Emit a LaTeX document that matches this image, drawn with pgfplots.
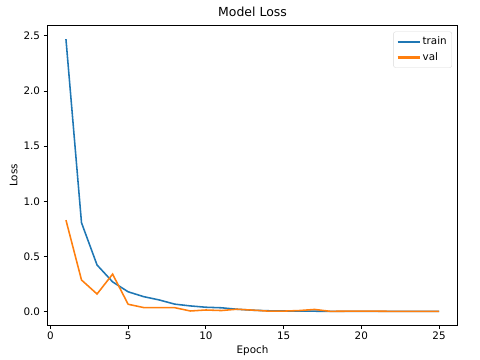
\documentclass[border=0pt]{standalone}
\usepackage{fontspec}
\setmainfont{DejaVu Sans}
\usepackage{pgfplots}
\pgfplotsset{compat=1.18}
\definecolor{c0}{HTML}{1F77B4}
\definecolor{c1}{HTML}{FF7F0E}
\begin{document}
\fontsize{10.4}{12}\selectfont
\begin{tikzpicture}
\begin{axis}[
  name=ax,
  scale only axis,
  width=410.4bp, height=299.4bp,
  xmin=-0.2, xmax=26.2, ymin=-0.121, ymax=2.593,
  xtick={0,5,...,25}, ytick={0,0.5,1,1.5,2,2.5},
  /pgf/number format/assume math mode=true,
  yticklabel style={/pgf/number format/fixed, /pgf/number format/precision=1, /pgf/number format/fixed zerofill},
  tick align=outside, tick pos=left,
  major tick length=3.6bp,
  every tick/.style={black, line width=0.83bp},
  axis line style={line width=0.83bp},
  title={Model Loss},
  title style={font=\fontsize{12.5}{14}\selectfont, yshift=-1bp},
  xlabel={Epoch}, ylabel={Loss},
  xlabel style={yshift=2bp},
  ylabel style={yshift=-1bp},
  legend style={at={(0.986,0.98)}, anchor=north east, draw=black!15, rounded corners=2bp,
    font=\fontsize{10.4}{12}\selectfont, row sep=2.3bp, inner xsep=3bp, inner ysep=3.3bp},
  legend cell align=left,
  legend image code/.code={\draw[#1, line width=2.1bp] (0bp,0bp) -- (22bp,0bp);},
]
\addplot[c0, line width=1.56bp] coordinates {
  (1,2.47) (2,0.806) (3,0.423) (4,0.27) (5,0.18) (6,0.136) (7,0.106) (8,0.068)
  (9,0.052) (10,0.040) (11,0.035) (12,0.022) (13,0.013) (14,0.008) (15,0.006)
  (16,0.005) (17,0.004) (18,0.003) (19,0.003) (20,0.002) (21,0.002) (22,0.002)
  (23,0.002) (24,0.002) (25,0.002)
};
\addlegendentry{train}
\addplot[c1, line width=1.56bp] coordinates {
  (1,0.83) (2,0.287) (3,0.16) (4,0.34) (5,0.067) (6,0.037) (7,0.037) (8,0.036)
  (9,0.006) (10,0.015) (11,0.010) (12,0.022) (13,0.014) (14,0.005) (15,0.005)
  (16,0.010) (17,0.020) (18,0.003) (19,0.004) (20,0.005) (21,0.004) (22,0.003)
  (23,0.003) (24,0.003) (25,0.003)
};
\addlegendentry{val}
\end{axis}
\pgfresetboundingbox
\path ([xshift=-47.3bp, yshift=-35bp]ax.south west) rectangle ([xshift=22.3bp, yshift=25.6bp]ax.north east);
\end{tikzpicture}
\end{document}
